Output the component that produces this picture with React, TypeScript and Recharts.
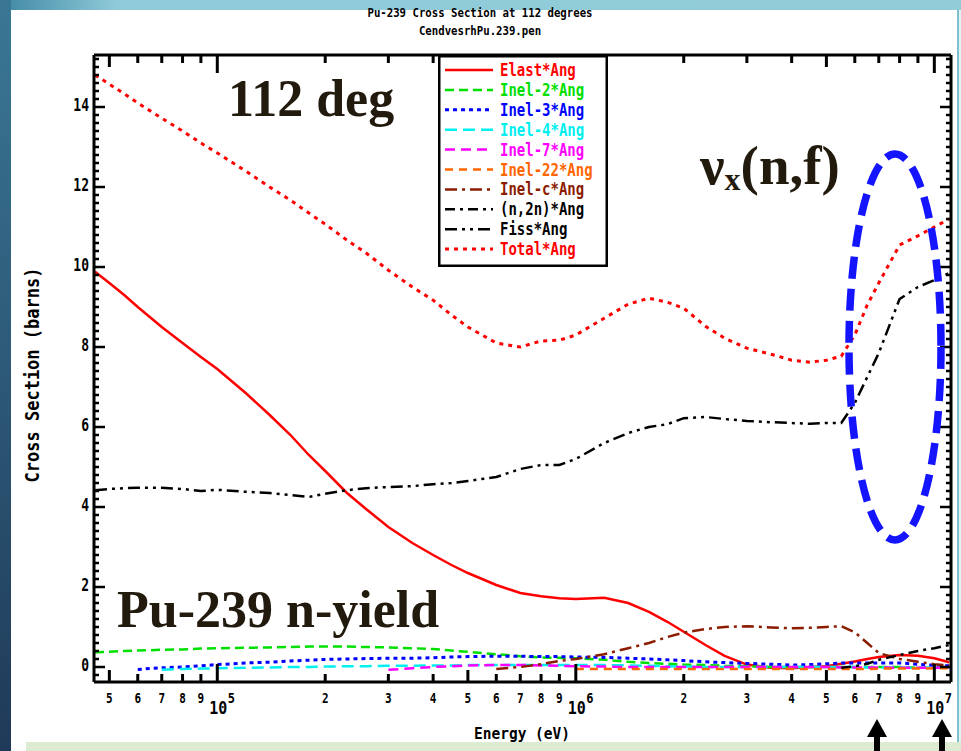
import React from 'react'
import { LineChart, Line, XAxis, YAxis, Legend } from 'recharts'

const MONO = '"DejaVu Sans Mono", monospace'
const SERIF = '"Liberation Serif", "Times New Roman", serif'
const INK = '#231a0e'

// incident energy grid (eV)
const energy = [
  4.56e4, 5e4, 5.5e4, 6e4, 7e4, 8e4, 9e4, 1e5, 1.2e5, 1.4e5, 1.6e5, 1.8e5, 2e5, 2.3e5, 2.6e5,
  3e5, 3.5e5, 4e5, 4.5e5, 5e5, 6e5, 7e5, 8e5, 9e5, 1e6, 1.2e6, 1.4e6, 1.6e6, 1.8e6, 2e6,
  2.3e6, 2.6e6, 3e6, 3.5e6, 4e6, 4.5e6, 5e6, 5.5e6, 6e6, 6.5e6, 7e6, 8e6, 9e6, 1e7, 1.1e7,
]

// angular cross sections at 112 deg (barns)
const elast = [
  9.88, 9.6, 9.3, 9.0, 8.5, 8.1, 7.75, 7.45, 6.85, 6.3, 5.8, 5.3, 4.9, 4.35, 3.95,
  3.5, 3.1, 2.8, 2.55, 2.35, 2.05, 1.85, 1.77, 1.72, 1.7, 1.73, 1.6, 1.38, 1.13, 0.88,
  0.55, 0.28, 0.06, -0.02, -0.03, 0.0, 0.02, 0.08, 0.14, 0.2, 0.25, 0.3, 0.28, 0.22, 0.12,
]
const inel2 = [
  0.37, 0.38, 0.4, 0.41, 0.43, 0.44, 0.46, 0.47, 0.48, 0.49, 0.5, 0.51, 0.51, 0.51, 0.5,
  0.49, 0.47, 0.45, 0.41, 0.38, 0.32, 0.27, 0.24, 0.23, 0.22, 0.18, 0.13, 0.1, 0.08, 0.06,
  0.05, 0.03, 0.02, 0.0, 0.0, 0.0, 0.0, 0.0, 0.0, 0.0, 0.0, 0.0, -0.02, -0.02, -0.02,
]
const inel3 = [
  null, null, null, -0.06, -0.02, 0.0, 0.03, 0.06, 0.1, 0.12, 0.15, 0.17, 0.19, 0.2, 0.21,
  0.22, 0.22, 0.23, 0.25, 0.26, 0.27, 0.27, 0.26, 0.26, 0.25, 0.24, 0.22, 0.2, 0.18, 0.16,
  0.13, 0.11, 0.09, 0.07, 0.05, 0.06, 0.08, 0.1, 0.1, 0.1, 0.1, 0.1, 0.07, 0.04, 0.03,
]
const inel4 = [
  null, null, null, null, -0.07, -0.05, -0.04, -0.03, -0.02, -0.01, 0.0, 0.0, 0.01, 0.02, 0.02,
  0.03, 0.03, 0.04, 0.04, 0.05, 0.05, 0.05, 0.05, 0.05, 0.05, 0.05, 0.04, 0.03, 0.02, 0.01,
  0.0, 0.0, 0.0, 0.0, 0.0, 0.0, 0.0, 0.0, 0.0, -0.01, -0.01, -0.01, -0.02, -0.02, -0.02,
]
const inel7 = [
  null, null, null, null, null, null, null, null, null, null, null, null, null, null, null,
  -0.07, -0.03, 0.0, 0.02, 0.04, 0.05, 0.05, 0.04, 0.03, 0.02, 0.01, 0.0, 0.0, 0.0, 0.0,
  0.0, 0.0, 0.0, 0.0, 0.0, 0.0, 0.0, -0.01, -0.01, -0.01, -0.01, -0.02, -0.02, -0.02, -0.02,
]
const inel22 = [
  null, null, null, null, null, null, null, null, null, null, null, null, null, null, null,
  null, null, null, null, null, null, null, null, null, -0.05, -0.05, -0.05, -0.05, -0.05, -0.05,
  -0.05, -0.05, -0.05, -0.05, -0.05, -0.05, -0.05, -0.05, -0.05, -0.05, -0.04, -0.04, -0.04, -0.03, -0.03,
]
const inelc = [
  null, null, null, null, null, null, null, null, null, null, null, null, null, null, null,
  null, null, null, null, null, -0.05, 0.0, 0.07, 0.15, 0.2, 0.32, 0.47, 0.6, 0.75, 0.86,
  0.95, 1.0, 1.02, 0.99, 0.97, 0.98, 1.0, 1.02, 0.87, 0.6, 0.35, 0.2, 0.13, 0.07, 0.04,
]
const n2n = [
  null, null, null, null, null, null, null, null, null, null, null, null, null, null, null,
  null, null, null, null, null, null, null, null, null, null, null, null, null, null, null,
  null, null, null, null, null, null, null, -0.02, 0.02, 0.08, 0.18, 0.3, 0.4, 0.47, 0.55,
]
const fiss = [
  4.42, 4.45, 4.47, 4.48, 4.48, 4.45, 4.4, 4.43, 4.38, 4.35, 4.3, 4.25, 4.33, 4.42, 4.47,
  4.5, 4.52, 4.57, 4.6, 4.65, 4.75, 4.95, 5.05, 5.05, 5.2, 5.6, 5.85, 6.0, 6.07, 6.22,
  6.25, 6.2, 6.15, 6.12, 6.1, 6.08, 6.1, 6.1, 6.6, 7.25, 7.85, 9.2, 9.5, 9.67, 9.85,
]
const total = [
  14.8, 14.57, 14.33, 14.1, 13.72, 13.4, 13.1, 12.85, 12.4, 12.0, 11.67, 11.35, 11.07, 10.67, 10.35,
  9.92, 9.5, 9.17, 8.8, 8.5, 8.1, 8.0, 8.15, 8.17, 8.3, 8.72, 9.07, 9.22, 9.12, 8.97,
  8.52, 8.22, 7.97, 7.82, 7.67, 7.62, 7.67, 7.77, 8.3, 9.05, 9.6, 10.55, 10.78, 11.0, 11.2,
]

const seriesNames = [
  'Elast*Ang', 'Inel-2*Ang', 'Inel-3*Ang', 'Inel-4*Ang', 'Inel-7*Ang',
  'Inel-22*Ang', 'Inel-c*Ang', '(n,2n)*Ang', 'Fiss*Ang', 'Total*Ang',
]

// line styles, same order as the names
const series = [
  { key: 'elast', values: elast, color: '#ff0000', dash: undefined, width: 2.5 },
  { key: 'inel2', values: inel2, color: '#00e000', dash: '9 5', width: 2.5 },
  { key: 'inel3', values: inel3, color: '#0000ff', dash: '4 4', width: 3 },
  { key: 'inel4', values: inel4, color: '#00f0f0', dash: '12 6', width: 2.5 },
  { key: 'inel7', values: inel7, color: '#ff00ff', dash: '10 6', width: 2.5 },
  { key: 'inel22', values: inel22, color: '#ff6600', dash: '8 6', width: 2.5 },
  { key: 'inelc', values: inelc, color: '#8b1c00', dash: '12 5 3 5', width: 2.5 },
  { key: 'n2n', values: n2n, color: '#000000', dash: '10 5 3 5', width: 2.5 },
  { key: 'fiss', values: fiss, color: '#000000', dash: '12 5 3 5 3 5', width: 2.5 },
  { key: 'total', values: total, color: '#ff0000', dash: '4 5', width: 3 },
]

const data = energy.map((e, i) => {
  const row: any = { e }
  series.forEach((s) => {
    row[s.key] = s.values[i]
  })
  return row
})

const xTicks = [
  5e4, 6e4, 7e4, 8e4, 9e4, 1e5, 2e5, 3e5, 4e5, 5e5, 6e5, 7e5, 8e5, 9e5,
  1e6, 2e6, 3e6, 4e6, 5e6, 6e6, 7e6, 8e6, 9e6, 1e7,
]
const xDomain = [45300, 1.113e7]
const yDomain = [-0.375, 15.3]

// minor ticks every 0.2 b, labelled every 2 b
const yTicks: number[] = []
for (let i = -1; i <= 76; i++) yTicks.push(i / 5)
const isYMajor = (v: number) => v >= 0 && Math.abs(v / 2 - Math.round(v / 2)) < 1e-6

function decade(v: number) {
  const exp = Math.floor(Math.log10(v) + 1e-9)
  const mant = Math.round(v / Math.pow(10, exp))
  return { exp, mant }
}
const xTickLen = (v: number) => {
  const { mant } = decade(v)
  return mant === 1 ? 18 : mant === 5 ? 12 : 8
}

const txt = { fontFamily: MONO, fontWeight: 700, fill: '#000' } as const

const BottomTick = (props: any) => {
  const { x, y, payload } = props
  const { exp, mant } = decade(payload.value)
  return (
    <g>
      <line x1={x} x2={x} y1={y} y2={y - xTickLen(payload.value)} stroke="#000" strokeWidth={3} />
      {mant === 1 ? (
        <g>
          <text {...txt} fontSize={15} textAnchor="middle" transform={`translate(${x + 1},${y + 32}) scale(1,1.2)`}>
            10
          </text>
          <text {...txt} fontSize={12} textAnchor="middle" transform={`translate(${x + 14},${y + 21}) scale(1,1.2)`}>
            {exp}
          </text>
        </g>
      ) : (
        <text {...txt} fontSize={11} textAnchor="middle" transform={`translate(${x},${y + 21}) scale(1,1.2)`}>
          {mant}
        </text>
      )}
    </g>
  )
}

const TopTick = (props: any) => {
  const { x, y, payload } = props
  return <line x1={x} x2={x} y1={y} y2={y + xTickLen(payload.value)} stroke="#000" strokeWidth={3} />
}

const LeftTick = (props: any) => {
  const { x, y, payload } = props
  const v = payload.value
  const major = isYMajor(v)
  return (
    <g>
      <line x1={x} x2={x + (major ? 11 : 5)} y1={y} y2={y} stroke="#000" strokeWidth={2.5} />
      {major && (
        <text {...txt} fontSize={13} textAnchor="end" transform={`translate(${x - 5},${y + 4}) scale(1,1.4)`}>
          {Math.round(v)}
        </text>
      )}
    </g>
  )
}

const RightTick = (props: any) => {
  const { x, y, payload } = props
  const major = isYMajor(payload.value)
  return <line x1={x} x2={x - (major ? 11 : 5)} y1={y} y2={y} stroke="#000" strokeWidth={2.5} />
}

const LegendBox = () => (
  <svg width={170} height={212} style={{ display: 'block' }}>
    <rect x={1.25} y={1.25} width={167.5} height={209.5} fill="#fff" stroke="#000" strokeWidth={2.5} />
    {series.map((s, i) => {
      const cy = 15 + i * 19.9
      return (
        <g key={s.key}>
          <line x1={7} x2={55} y1={cy} y2={cy} stroke={s.color} strokeWidth={s.width} strokeDasharray={s.dash} />
          <text
            fontFamily={MONO}
            fontWeight={700}
            fontSize={14}
            fill={s.color}
            transform={`translate(62,${cy + 6}) scale(1,1.25)`}
          >
            {seriesNames[i]}
          </text>
        </g>
      )
    })}
  </svg>
)

const Arrow = ({ x }: { x: number }) => (
  <g fill="#000">
    <polygon points={`${x},719 ${x - 10},737 ${x + 10},737`} />
    <rect x={x - 3} y={736} width={6} height={15} />
  </g>
)

// axes get a 1px box: Recharts skips axes with zero size
const axisLine = { stroke: '#000', strokeWidth: 3 }

export default function App() {
  return (
    <div style={{ position: 'absolute', left: 0, top: 0, width: 961, height: 751, overflow: 'hidden', background: '#fff' }}>
      {/* slide frame */}
      <svg width={961} height={751} style={{ position: 'absolute', left: 0, top: 0 }}>
        <defs>
          <linearGradient id="leftBar" x1="0" x2="0" y1="0" y2="1">
            <stop offset="0" stopColor="#3a7896" />
            <stop offset="1" stopColor="#1f3a58" />
          </linearGradient>
          <linearGradient id="topBand" x1="0" x2="1" y1="0" y2="0">
            <stop offset="0" stopColor="#3f87a3" />
            <stop offset="0.12" stopColor="#8ecad8" />
            <stop offset="1" stopColor="#92ccd9" />
          </linearGradient>
        </defs>
        <rect x={0} y={0} width={961} height={10} fill="url(#topBand)" />
        <rect x={0} y={0} width={11} height={751} fill="url(#leftBar)" />
        <rect x={26} y={742} width={935} height={9} fill="#dcebd1" />
        <rect x={957} y={10} width={2} height={732} fill="#7fc0cf" />
        <rect x={959} y={10} width={2} height={732} fill="#e4f2f3" />
      </svg>

      <div style={{ position: 'absolute', left: 0, top: 0 }}>
        <LineChart width={961} height={751} data={data} margin={{ top: 54, right: 9, bottom: 68, left: 93 }}>
          <XAxis
            dataKey="e"
            type="number"
            scale="log"
            domain={xDomain}
            allowDataOverflow
            ticks={xTicks}
            interval={0}
            height={1}
            tickSize={0}
            tickMargin={0}
            tickLine={false}
            tick={BottomTick}
            axisLine={axisLine}
          />
          <XAxis
            xAxisId="top"
            orientation="top"
            dataKey="e"
            type="number"
            scale="log"
            domain={xDomain}
            allowDataOverflow
            ticks={xTicks}
            interval={0}
            height={1}
            tickSize={0}
            tickMargin={0}
            tickLine={false}
            tick={TopTick}
            axisLine={axisLine}
          />
          <YAxis
            type="number"
            domain={yDomain}
            allowDataOverflow
            ticks={yTicks}
            interval={0}
            width={1}
            tickSize={0}
            tickMargin={0}
            tickLine={false}
            tick={LeftTick}
            axisLine={axisLine}
          />
          <YAxis
            yAxisId="right"
            orientation="right"
            type="number"
            domain={yDomain}
            allowDataOverflow
            ticks={yTicks}
            interval={0}
            width={1}
            tickSize={0}
            tickMargin={0}
            tickLine={false}
            tick={RightTick}
            axisLine={axisLine}
          />
          {series.map((s, i) => (
            <Line
              key={s.key}
              dataKey={s.key}
              name={seriesNames[i]}
              type="linear"
              stroke={s.color}
              strokeWidth={s.width}
              strokeDasharray={s.dash}
              dot={false}
              activeDot={false}
              isAnimationActive={false}
            />
          ))}
          <Legend
            layout="horizontal"
            verticalAlign="middle"
            align="center"
            content={() => <LegendBox />}
            wrapperStyle={{ position: 'absolute', left: 438, top: 55, width: 170, height: 212 }}
          />
        </LineChart>
      </div>

      {/* titles and annotations */}
      <svg width={961} height={751} style={{ position: 'absolute', left: 0, top: 0, pointerEvents: 'none' }}>
        <text {...txt} fontSize={10.7} textAnchor="middle" transform="translate(480,17) scale(1,1.2)">
          Pu-239 Cross Section at 112 degrees
        </text>
        <text {...txt} fontSize={10.7} textAnchor="middle" transform="translate(480,35) scale(1,1.2)">
          CendvesrhPu.239.pen
        </text>
        <text {...txt} fontSize={14.5} textAnchor="middle" transform="translate(522,739) scale(1,1.15)">
          Energy (eV)
        </text>
        <text {...txt} fontSize={17} textAnchor="middle" transform="translate(39,375) rotate(-90) scale(1,1.1)">
          Cross Section (barns)
        </text>

        <text fontFamily={SERIF} fontWeight={700} fontSize={52} fill={INK} x={228} y={116}>
          112 deg
        </text>
        <text fontFamily={SERIF} fontWeight={700} fontSize={52} fill={INK} x={117} y={627}>
          Pu-239 n-yield
        </text>
        <text fontFamily={SERIF} fontWeight={700} fill={INK} x={700} y={184}>
          <tspan fontSize={55}>ν</tspan>
          <tspan fontSize={32} dy={6}>x</tspan>
          <tspan fontSize={55} dy={-6}>(n,f)</tspan>
        </text>

        <ellipse cx={895} cy={347} rx={46} ry={193} fill="none" stroke="#1414ff" strokeWidth={7.5} strokeDasharray="22 10" />

        <Arrow x={877} />
        <Arrow x={942} />
      </svg>
    </div>
  )
}
